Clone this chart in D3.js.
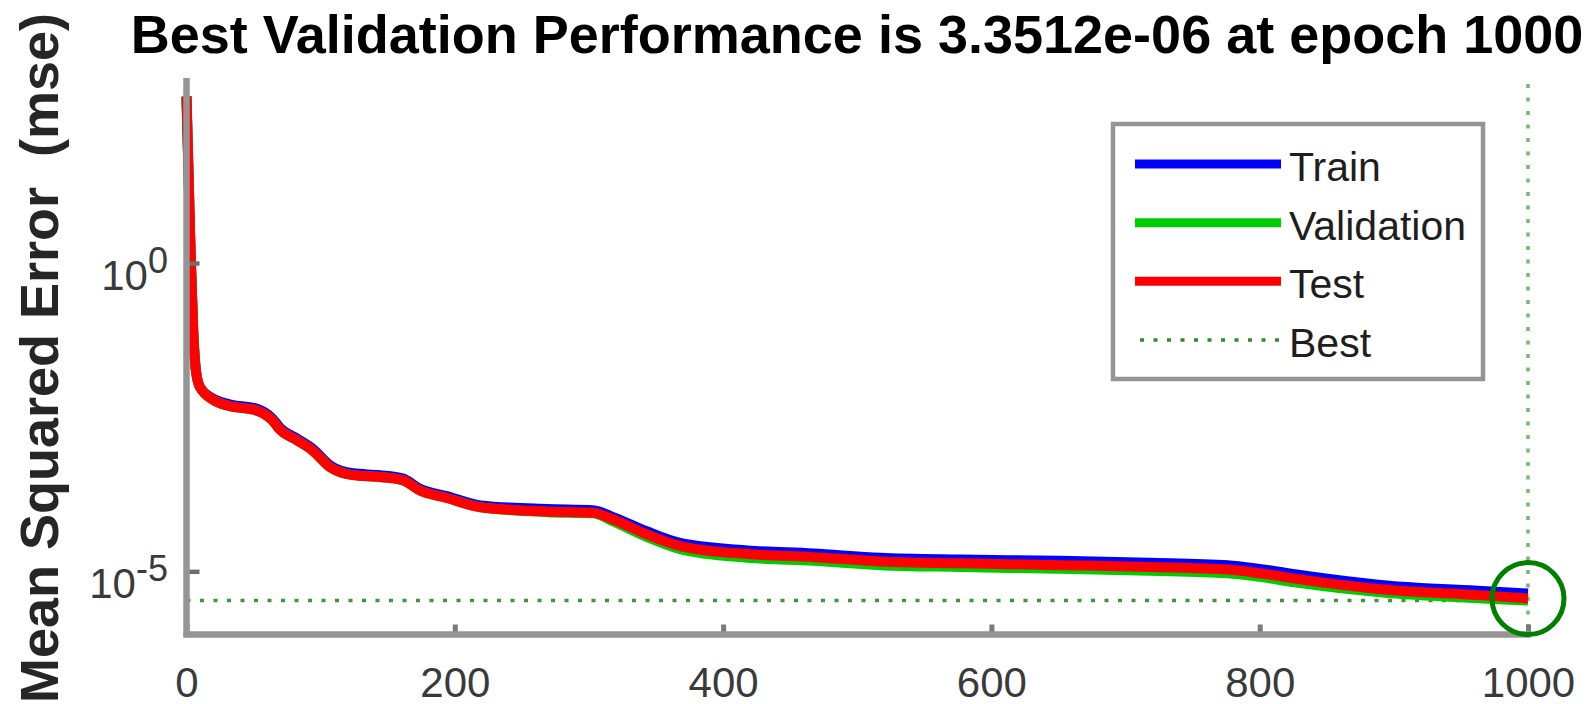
<!DOCTYPE html>
<html>
<head>
<meta charset="utf-8">
<script src="https://cdn.jsdelivr.net/npm/d3@7.9.0/dist/d3.min.js"></script>
<style>
  html, body { margin: 0; padding: 0; background: #fff; }
  svg { display: block; font-family: "Liberation Sans", Arial, sans-serif; }
</style>
</head>
<body>
<div id="chart"></div>
<script>
// epochs, with log10(mse) for each series
const epochs = [0, 3, 5, 7, 10, 20, 32, 52, 64, 70, 82, 94, 107, 124, 144, 161, 174, 194, 219, 269,
  303, 318, 343, 368, 418, 467, 517, 577, 651, 718, 776, 800, 830, 890, 966, 1000];
const trainLog10 = [2.70, 0.20, -1.09, -1.74, -2.01, -2.20, -2.29, -2.36, -2.52, -2.68, -2.84, -3.01, -3.28, -3.41, -3.44,
  -3.49, -3.66, -3.78, -3.93, -3.99, -4.01, -4.12, -4.35, -4.54, -4.66, -4.71, -4.78, -4.81, -4.83, -4.86,
  -4.90, -4.96, -5.06, -5.22, -5.32, -5.36];
const validationLog10 = [2.70, 0.20, -1.09, -1.74, -2.01, -2.22, -2.32, -2.39, -2.55, -2.71, -2.87, -3.04, -3.31, -3.44, -3.47,
  -3.52, -3.69, -3.81, -3.96, -4.04, -4.06, -4.19, -4.44, -4.64, -4.78, -4.83, -4.90, -4.93, -4.96, -4.99,
  -5.03, -5.09, -5.19, -5.34, -5.44, -5.475];
const testLog10 = [2.70, 0.20, -1.09, -1.74, -2.01, -2.22, -2.32, -2.39, -2.55, -2.71, -2.87, -3.04, -3.31, -3.44, -3.47,
  -3.52, -3.69, -3.81, -3.96, -4.03, -4.05, -4.16, -4.40, -4.59, -4.72, -4.77, -4.84, -4.87, -4.90, -4.93,
  -4.97, -5.03, -5.13, -5.29, -5.39, -5.44];
const bestEpoch = 1000;
const bestPerf = 3.3512e-06;
const xTicks = [0, 200, 400, 600, 800, 1000];
const yTicks = [1, 1e-5];
const yTickExp = ["0", "-5"];
const seriesNames = ["Train", "Validation", "Test", "Best"];
const seriesColors = ["#0000ff", "#00cc00", "#ff0000", "#2e8b2e"];

const width = 1596, height = 704;
const axisColor = "#959595";

const svg = d3.select("#chart").append("svg")
  .attr("width", width)
  .attr("height", height)
  .style("background", "#fff");

const x = d3.scaleLinear().domain([0, 1000]).range([186.5, 1528]);
const y = d3.scaleLog().domain([1e-6, 1e3]).range([633, 78]);

// title
svg.append("text")
  .attr("x", 857)
  .attr("y", 53)
  .attr("text-anchor", "middle")
  .attr("font-size", 54)
  .attr("font-weight", "bold")
  .attr("fill", "#000")
  .text(`Best Validation Performance is ${bestPerf.toExponential(4).replace("e-6", "e-06")} at epoch ${bestEpoch}`);

// y label
svg.append("text")
  .attr("transform", "translate(58,358) rotate(-90)")
  .attr("text-anchor", "middle")
  .attr("font-size", 54)
  .attr("font-weight", "bold")
  .attr("fill", "#262626")
  .style("white-space", "pre")
  .text("Mean Squared Error  (mse)");

// best lines
const dotted = svg.append("g").attr("fill", "none").attr("stroke-width", 3.5).attr("stroke-dasharray", "4 9.5");
dotted.append("line")
  .attr("x1", x(0)).attr("x2", x(bestEpoch))
  .attr("y1", y(bestPerf)).attr("y2", y(bestPerf))
  .attr("stroke", "#3c963c");
dotted.append("line")
  .attr("x1", x(bestEpoch)).attr("x2", x(bestEpoch))
  .attr("y1", y(1e3) + 6).attr("y2", y(1e-6))
  .attr("stroke", "#74b874");

// curves
const line = d3.line()
  .x(d => x(d[0]))
  .y(d => y(Math.pow(10, d[1])))
  .curve(d3.curveMonotoneX);

[trainLog10, validationLog10, testLog10].forEach((vals, i) => {
  svg.append("path")
    .datum(epochs.map((e, j) => [e, vals[j]]))
    .attr("fill", "none")
    .attr("stroke", seriesColors[i])
    .attr("stroke-width", 10)
    .attr("stroke-linejoin", "round")
    .attr("d", line);
});

// axes
const xAxis = svg.append("g")
  .attr("transform", "translate(0,634.5)")
  .call(d3.axisBottom(x).tickValues(xTicks).tickSize(-10).tickPadding(0).tickFormat(d3.format("d")));
xAxis.select(".domain").remove();
xAxis.selectAll(".tick line").attr("stroke", "#7a7a7a").attr("stroke-width", 5);
xAxis.selectAll(".tick text")
  .attr("y", 62).attr("dy", null)
  .attr("font-size", 42)
  .attr("font-family", "Liberation Sans, Arial, sans-serif")
  .attr("fill", "#3a3a3a");

const yAxis = svg.append("g")
  .attr("transform", "translate(186.5,0)")
  .call(d3.axisLeft(y).tickValues(yTicks).tickSize(-13).tickFormat(() => ""));
yAxis.select(".domain").remove();
yAxis.selectAll(".tick line").attr("stroke", "#6e6e6e").attr("stroke-width", 4.5);

const yLab = svg.append("g")
  .selectAll("text")
  .data(yTicks)
  .join("text")
  .attr("x", 168)
  .attr("y", d => y(d) + 27)
  .attr("text-anchor", "end")
  .attr("fill", "#3a3a3a")
  .attr("font-size", 42);
yLab.append("tspan").text("10");
yLab.append("tspan")
  .attr("dy", -17)
  .attr("font-size", 36)
  .text((d, i) => yTickExp[i]);

svg.append("line")
  .attr("x1", 186.5).attr("x2", 186.5)
  .attr("y1", 78).attr("y2", 637.5)
  .attr("stroke", axisColor).attr("stroke-width", 6.5);
svg.append("line")
  .attr("x1", 183.5).attr("x2", 1531)
  .attr("y1", 634.5).attr("y2", 634.5)
  .attr("stroke", axisColor).attr("stroke-width", 6.5);

// best marker
svg.append("circle")
  .attr("cx", x(bestEpoch))
  .attr("cy", y(bestPerf) - 2)
  .attr("r", 36)
  .attr("fill", "none")
  .attr("stroke", "#008000")
  .attr("stroke-width", 5);

// legend
const legend = svg.append("g");
legend.append("rect")
  .attr("x", 1113).attr("y", 124)
  .attr("width", 370).attr("height", 255)
  .attr("fill", "#fff")
  .attr("stroke", axisColor)
  .attr("stroke-width", 4.5);
const rowY = d3.scalePoint().domain(seriesNames).range([164, 340]);
seriesNames.forEach((name, i) => {
  const ly = rowY(name);
  legend.append("line")
    .attr("x1", name === "Best" ? 1140 : 1135).attr("x2", 1281)
    .attr("y1", ly).attr("y2", ly)
    .attr("stroke", seriesColors[i])
    .attr("stroke-width", name === "Best" ? 3.5 : 9)
    .attr("stroke-dasharray", name === "Best" ? "4 9.5" : null);
  legend.append("text")
    .attr("x", 1289)
    .attr("y", ly + 17)
    .attr("font-size", 41)
    .attr("fill", "#1e1e1e")
    .text(name);
});
</script>
</body>
</html>
